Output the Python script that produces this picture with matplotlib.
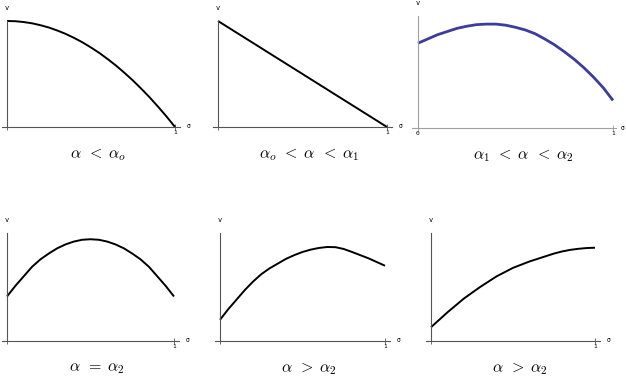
import matplotlib
matplotlib.use("Agg")
import matplotlib.pyplot as plt

plt.rcParams['mathtext.fontset'] = 'cm'

W, H = 626, 387

sigma = [0.00, 0.05, 0.10, 0.15, 0.20, 0.25, 0.30, 0.35, 0.40, 0.45, 0.50,
         0.55, 0.60, 0.65, 0.70, 0.75, 0.80, 0.85, 0.90, 0.95, 1.00]

# v(sigma), scaled so the first panel starts at 1
v_a = [1.00, 0.998, 0.99, 0.978, 0.96, 0.938, 0.91, 0.878, 0.84, 0.798, 0.75,
       0.698, 0.64, 0.578, 0.51, 0.438, 0.36, 0.278, 0.19, 0.098, 0.00]
v_b = [1.00, 0.95, 0.90, 0.85, 0.80, 0.75, 0.70, 0.65, 0.60, 0.55, 0.50,
       0.45, 0.40, 0.35, 0.30, 0.25, 0.20, 0.15, 0.10, 0.05, 0.00]
v_c = [0.80, 0.84, 0.88, 0.91, 0.94, 0.96, 0.975, 0.98, 0.98, 0.97, 0.95,
       0.925, 0.89, 0.84, 0.785, 0.72, 0.65, 0.57, 0.48, 0.38, 0.26]
v_d = [0.42, 0.52, 0.61, 0.70, 0.77, 0.825, 0.874, 0.911, 0.938, 0.955, 0.96,
       0.955, 0.938, 0.911, 0.874, 0.825, 0.77, 0.70, 0.61, 0.52, 0.42]
v_e = [0.20, 0.30, 0.39, 0.48, 0.56, 0.63, 0.685, 0.73, 0.775, 0.81, 0.84,
       0.862, 0.878, 0.887, 0.885, 0.868, 0.84, 0.81, 0.78, 0.745, 0.71]
v_f = [0.13, 0.20, 0.27, 0.335, 0.40, 0.455, 0.51, 0.56, 0.61, 0.65, 0.69,
       0.72, 0.75, 0.775, 0.80, 0.825, 0.845, 0.86, 0.87, 0.877, 0.88]

captions = [r'$\alpha\;\,<\;\alpha_o$', r'$\alpha_o\;\,<\;\alpha\;\,<\;\alpha_1$',
            r'$\alpha_1\;\,<\;\alpha\;\,<\;\alpha_2$', r'$\alpha\;\,=\;\alpha_2$',
            r'$\alpha\;\,>\;\alpha_2$', r'$\alpha\;\,>\;\alpha_2$']

fig = plt.figure(figsize=(W / 100, H / 100), dpi=100)

XL = (-0.1, 1.15)
YL = (-0.1, 1.15)


def make_ax(x0, x1, y0, y1):
    # pixel positions of sigma=0, sigma=1, v=0, v=1 (y from top)
    sx = x1 - x0
    sy = y0 - y1
    left = x0 + XL[0] * sx
    width = (XL[1] - XL[0]) * sx
    bottom = H - y0 + YL[0] * sy
    height = (YL[1] - YL[0]) * sy
    ax = fig.add_axes([left / W, bottom / H, width / W, height / H])
    ax.set_xlim(*XL)
    ax.set_ylim(*YL)
    ax.patch.set_alpha(0)
    return ax


def draw(ax, v, cap, ytop, color='black', lw=1.4, acol='#555555', zero=False,
         sx=1.07, xend=1.03):
    ax.plot(sigma, v, color=color, lw=lw, clip_on=False, solid_capstyle='butt')
    for s in ['top', 'right']:
        ax.spines[s].set_visible(False)
    ax.spines['left'].set_position(('data', 0))
    ax.spines['bottom'].set_position(('data', 0))
    ax.spines['left'].set_bounds(0, ytop)
    ax.spines['bottom'].set_bounds(-0.03, xend)
    for s in ['left', 'bottom']:
        ax.spines[s].set_color(acol)
        ax.spines[s].set_linewidth(0.8)
    ax.set_yticks([])
    ax.set_xticks([0, 1])
    ax.set_xticklabels(['0' if zero else '', '1'], fontsize=4.5,
                       family='DejaVu Sans Mono')
    ax.tick_params(axis='x', direction='inout', length=4, width=0.6,
                   color=acol, pad=0.5)
    ax.text(sx, 0, 'σ', fontsize=4.5, family='DejaVu Sans Mono',
            ha='left', va='center')
    ax.annotate('v', xy=(0, ytop), xytext=(0, 7), textcoords='offset points',
                fontsize=5, family='DejaVu Sans Mono', ha='center', va='bottom')
    ax.annotate(cap, xy=(0.54, 0), xytext=(0, -20), textcoords='offset points',
                fontsize=11.5, ha='center', va='center')


ax = make_ax(7, 175, 127, 21)
draw(ax, v_a, captions[0], 1.0)

ax = make_ax(218, 387, 127, 21)
draw(ax, v_b, captions[1], 1.0)

ax = make_ax(418, 613, 128, 22)
draw(ax, v_c, captions[2], 1.06, color='#3c3c9c', lw=2.0, acol='#a0a0a0',
     zero=True, sx=1.04, xend=1.015)

ax = make_ax(7, 174, 341, 235)
draw(ax, v_d, captions[3], 1.02)

ax = make_ax(220, 385, 341, 235)
draw(ax, v_e, captions[4], 1.02)

ax = make_ax(431, 595, 341, 235)
draw(ax, v_f, captions[5], 1.02)

fig.savefig('out.png', dpi=100)
